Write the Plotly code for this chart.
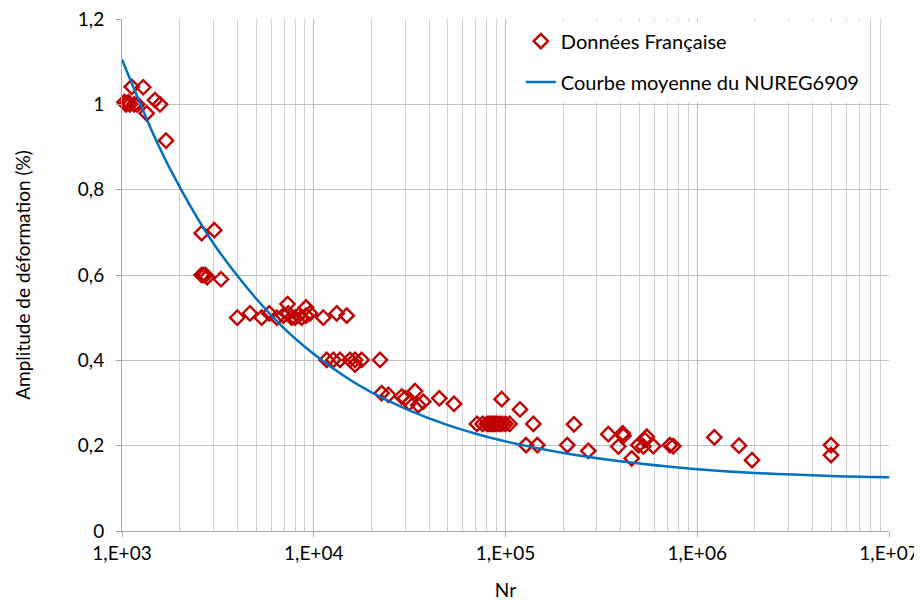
import plotly.graph_objects as go

# French data: number of cycles (Nr) and strain amplitude (%)
nr_data = [
    1000, 1030, 1050, 1080, 1100, 1124, 1160, 1200, 1291, 1486, 1578, 1345, 1696,
    2604, 3029, 2600, 2655, 2720, 2780, 3283,
    3992, 4650, 5353, 5865, 6410, 6937, 7366, 7674, 7983, 8318, 8652, 9113, 9561,
    7300, 9113, 11210, 13180, 14850,
    11680, 12650, 13710, 15450, 16410, 17780, 22150, 16410,
    22600, 24490, 28750, 29920, 31500, 33730, 35100, 37260, 45150, 53870,
    95500, 119000,
    71000, 76000, 80000, 82000, 84000, 86000, 88000, 90000, 93000, 96000, 100000, 105000,
    139700, 127900, 146500, 227600, 210000, 270300,
    343700, 408500, 411900, 387400, 455300, 493000, 533700, 523400, 545100, 589800,
    720600, 750000, 1227000, 1651000, 1930000, 4983000, 4983000,
]
amp_data = [
    1.005, 1.005, 1.0, 1.005, 1.0, 1.041, 1.0, 1.0, 1.040, 1.010, 1.0, 0.979, 0.915,
    0.698, 0.705, 0.600, 0.600, 0.600, 0.595, 0.590,
    0.500, 0.510, 0.500, 0.510, 0.500, 0.505, 0.510, 0.500, 0.500, 0.505, 0.500, 0.505, 0.510,
    0.532, 0.524, 0.500, 0.510, 0.505,
    0.401, 0.401, 0.401, 0.401, 0.401, 0.401, 0.401, 0.390,
    0.323, 0.319, 0.315, 0.311, 0.300, 0.328, 0.295, 0.303, 0.311, 0.298,
    0.309, 0.285,
    0.251, 0.251, 0.251, 0.251, 0.251, 0.251, 0.251, 0.251, 0.251, 0.251, 0.251, 0.251,
    0.251, 0.2015, 0.2015, 0.250, 0.2015, 0.188,
    0.227, 0.229, 0.223, 0.198, 0.170, 0.2015, 0.213, 0.198, 0.221, 0.199,
    0.2015, 0.199, 0.2196, 0.200, 0.166, 0.2015, 0.178,
]

# NUREG6909 mean curve
nr_curve = [1000, 1500, 2000, 3000, 5000, 7000, 10000, 15000, 20000, 30000, 50000,
            70000, 100000, 200000, 500000, 1000000, 2000000, 5000000, 10000000]
amp_curve = [1.105, 0.917, 0.806, 0.674, 0.545, 0.475, 0.415, 0.358, 0.325, 0.287, 0.248,
             0.228, 0.210, 0.183, 0.158, 0.145, 0.136, 0.129, 0.126]

x_tickvals = [1e3, 1e4, 1e5, 1e6, 1e7]
x_ticktext = ["1,E+03", "1,E+04", "1,E+05", "1,E+06", "1,E+07"]
y_tickvals = [0, 0.2, 0.4, 0.6, 0.8, 1.0, 1.2]
y_ticktext = ["0", "0,2", "0,4", "0,6", "0,8", "1", "1,2"]

minor_vals = [m * 10 ** e for e in range(3, 7) for m in range(2, 10)]

FONT = "Lato, 'Open Sans', sans-serif"
FS = 19

fig = go.Figure()
fig.add_trace(go.Scatter(
    x=nr_data, y=amp_data, mode="markers", name="Données Française",
    legendgroup="a",
    marker=dict(symbol="diamond-open", size=11, color="#C00000",
                line=dict(width=2.4, color="#C00000")),
    cliponaxis=False,
))
fig.add_trace(go.Scatter(
    x=nr_curve, y=amp_curve, mode="lines", name="Courbe moyenne du NUREG6909",
    legendgroup="b",
    line=dict(color="#0070C0", width=2.5, shape="spline", smoothing=0.8),
))

fig.update_layout(
    width=922, height=602,
    margin=dict(l=114, r=41, t=11, b=79, autoexpand=False),
    paper_bgcolor="white", plot_bgcolor="white",
    font=dict(family=FONT, size=FS, color="#000000"),
    showlegend=True,
    legend=dict(x=0.52, y=0.995, xanchor="left", yanchor="top",
                bgcolor="white", borderwidth=0,
                font=dict(size=20, family=FONT),
                tracegroupgap=12, itemwidth=30),
    xaxis=dict(
        type="log", range=[3, 7],
        tickvals=x_tickvals, ticktext=x_ticktext,
        showgrid=True, gridcolor="#BFBFBF", gridwidth=1,
        showline=True, linecolor="#A6A6A6", linewidth=1,
        ticks="outside", ticklen=5, tickcolor="#A6A6A6",
        ticklabeloverflow="allow",
        minor=dict(tickvals=minor_vals, showgrid=True, gridcolor="#D0D0D0", gridwidth=1, ticks=""),
        title=dict(text="Nr", font=dict(size=FS, family=FONT), standoff=20),
        tickfont=dict(size=FS, family=FONT),
        automargin=False,
        zeroline=False,
    ),
    yaxis=dict(
        range=[0, 1.2],
        tickvals=y_tickvals, ticktext=y_ticktext,
        showgrid=True, gridcolor="#BFBFBF", gridwidth=1,
        showline=True, linecolor="#A6A6A6", linewidth=1,
        ticks="outside", ticklen=5, tickcolor="#A6A6A6",
        ticklabelstandoff=8,
        ticklabeloverflow="allow",
        title=dict(text="Amplitude de déformation (%)", font=dict(size=FS, family=FONT), standoff=42),
        tickfont=dict(size=FS, family=FONT),
        automargin=False,
        zeroline=False,
    ),
)

fig.write_html("out.html")
